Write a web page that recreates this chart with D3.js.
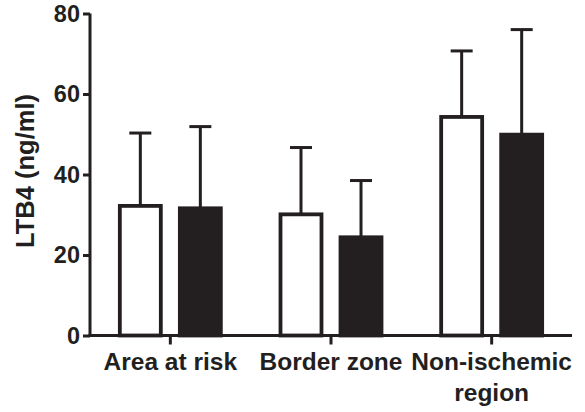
<!DOCTYPE html>
<html>
<head>
<meta charset="utf-8">
<script src="https://cdn.jsdelivr.net/npm/d3@7"></script>
<style>
  html, body { margin: 0; padding: 0; background: #fff; }
  svg { display: block; font-family: "Liberation Sans", Arial, Helvetica, sans-serif; font-weight: bold; }
</style>
</head>
<body>
<svg id="chart" width="585" height="412"></svg>
<script>
// Regions sampled and LTB4 concentrations (mean + SD) for the two groups
const categories = [["Area at risk"], ["Border zone"], ["Non-ischemic", "region"]];
const groups = ["open", "filled"];
const openMeans = [32.2, 30.1, 54.3];
const openSD = [18.1, 16.6, 16.4];
const filledMeans = [31.6, 24.4, 49.9];
const filledSD = [20.3, 14.1, 26.1];
const yTicks = [0, 20, 40, 60, 80];
const yLabel = "LTB4 (ng/ml)";

const ink = "#231f20";
const svg = d3.select("#chart");

const x0 = 90, x1 = 572, yBase = 335.5, yTop = 13.5;

const x = d3.scaleBand().domain(d3.range(categories.length)).range([x0, x1]).padding(0);
const xSub = d3.scaleBand().domain(groups).range([-50.5, 50.5]).paddingInner(0.317);
const y = d3.scaleLinear().domain([0, 80]).range([yBase, yTop]);

const rows = [];
categories.forEach((c, i) => {
  rows.push({ i, g: "open", mean: openMeans[i], sd: openSD[i] });
  rows.push({ i, g: "filled", mean: filledMeans[i], sd: filledSD[i] });
});
const cx = d => x(d.i) + x.bandwidth() / 2 + xSub(d.g) + xSub.bandwidth() / 2;

// error bars (upper whisker only)
const err = svg.append("g").attr("stroke", ink).attr("stroke-width", 3);
err.selectAll("line.stem").data(rows).join("line")
  .attr("x1", cx).attr("x2", cx)
  .attr("y1", d => y(d.mean)).attr("y2", d => y(d.mean + d.sd));
err.selectAll("line.cap").data(rows).join("line")
  .attr("x1", d => cx(d) - 11).attr("x2", d => cx(d) + 11)
  .attr("y1", d => y(d.mean + d.sd)).attr("y2", d => y(d.mean + d.sd));

// bars
svg.append("g").selectAll("rect").data(rows).join("rect")
  .attr("x", d => cx(d) - xSub.bandwidth() / 2)
  .attr("width", xSub.bandwidth())
  .attr("y", d => y(d.mean))
  .attr("height", d => yBase - y(d.mean))
  .attr("fill", d => d.g === "open" ? "#fff" : ink)
  .attr("stroke", ink)
  .attr("stroke-width", 3.8);

// y axis
const yAxis = svg.append("g").attr("transform", `translate(${x0},0)`)
  .call(d3.axisLeft(y).tickValues(yTicks).tickSize(7).tickPadding(3).tickFormat(d3.format("d")));
yAxis.select(".domain").attr("stroke", ink).attr("stroke-width", 3).attr("d", `M0,${yTop}V${yBase}`);
yAxis.selectAll(".tick line").attr("stroke", ink).attr("stroke-width", 3);
yAxis.selectAll(".tick text").attr("fill", ink).attr("font-size", 23.5).attr("font-weight", "bold")
  .attr("font-family", "Liberation Sans, Arial, sans-serif");

// x axis
const xAxis = svg.append("g").attr("transform", `translate(0,${yBase})`)
  .call(d3.axisBottom(x).tickSize(9).tickFormat(""));
xAxis.select(".domain").attr("stroke", ink).attr("stroke-width", 3).attr("d", `M${x0 - 1.5},0H${x1}`);
xAxis.selectAll(".tick line").attr("stroke", ink).attr("stroke-width", 3);

// category labels
const lab = svg.append("g").attr("fill", ink).attr("font-size", 24.5).attr("text-anchor", "middle");
categories.forEach((lines, i) => {
  const t = lab.append("text").attr("x", x(i) + x.bandwidth() / 2).attr("y", 369.5);
  lines.forEach((s, k) => t.append("tspan").attr("x", x(i) + x.bandwidth() / 2).attr("dy", k ? 31 : 0).text(s));
});

// y axis title
svg.append("text")
  .attr("transform", `translate(34,171) rotate(-90)`)
  .attr("text-anchor", "middle").attr("fill", ink).attr("font-size", 25.5)
  .text(yLabel);
</script>
</body>
</html>
